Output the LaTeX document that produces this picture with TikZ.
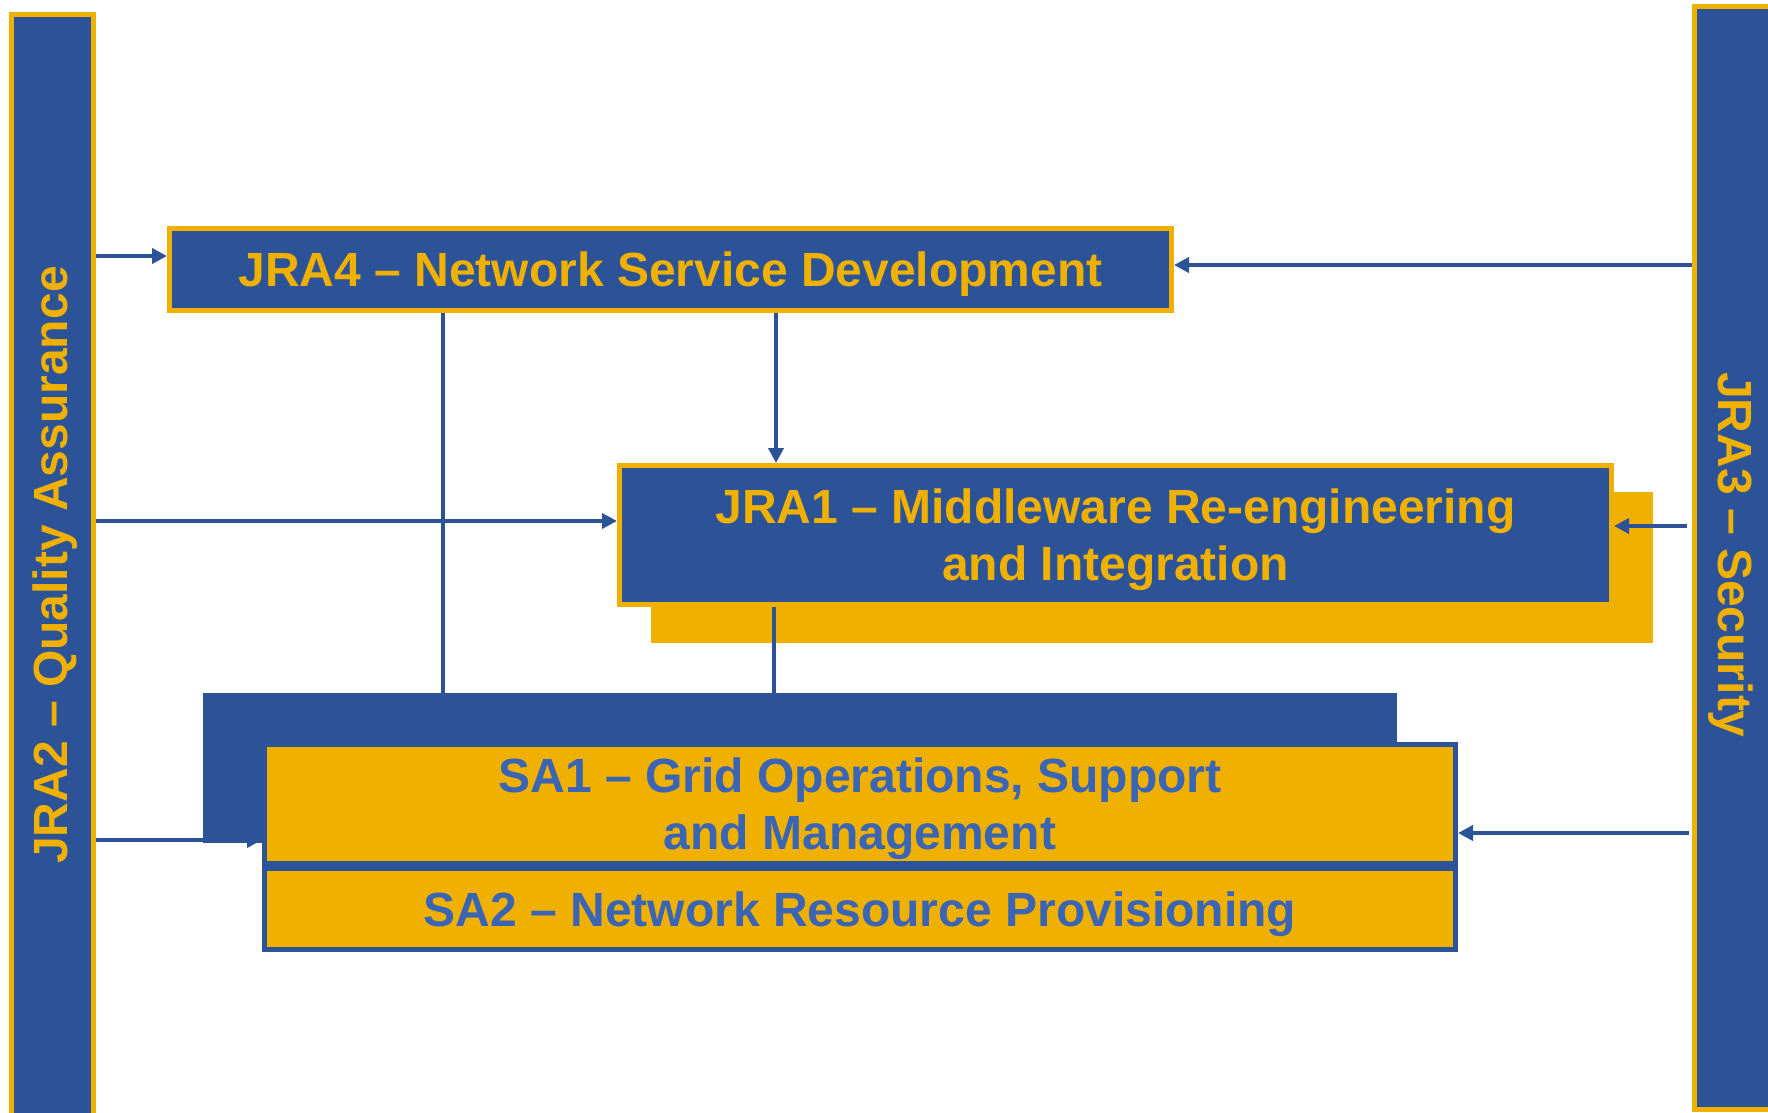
\documentclass[tikz,border=0pt]{standalone}
\usepackage{fontspec}
\setmainfont{Liberation Sans}
\usetikzlibrary{arrows.meta}
\definecolor{fblue}{RGB}{44,83,152}
\definecolor{forange}{RGB}{240,176,0}
\definecolor{tblue}{RGB}{58,100,180}
\tikzset{
  bigfont/.style={font=\fontsize{48}{57}\selectfont\bfseries},
  bluebox/.style={draw=forange, fill=fblue, line width=5pt, text=forange, bigfont, align=center, inner sep=0pt, text depth=0pt},
  orangebox/.style={draw=fblue, fill=forange, line width=5pt, text=tblue, bigfont, align=center, inner sep=0pt, text depth=0pt},
  plainrect/.style={draw=none, inner sep=0pt, outer sep=0pt},
  conn/.style={draw=fblue, line width=4.5pt},
  arr/.style={conn, -{Triangle[length=15pt,width=15pt]}},
}
\begin{document}
\begin{tikzpicture}[x=1pt,y=-1pt]
\useasboundingbox (0,0) rectangle (1768,1112);
\clip (0,0) rectangle (1768,1112);
% side bars
\node[bluebox, minimum width=82pt, minimum height=1140pt] (jra2) at (52.5,584.5) {};
\node[bluebox, minimum width=120pt, minimum height=1103pt] (jra3) at (1754.5,558) {};
\node[text=forange, bigfont, rotate=90] (jra2t) at (55,565) {JRA2 – Quality Assurance};
\node[text=forange, bigfont, rotate=-90] (jra3t) at (1731,555) {JRA3 – Security};
% JRA4
\node[bluebox, minimum width=1002pt, minimum height=82pt] (jra4) at (670.5,269.5) {JRA4 – Network Service Development};
% arrow hidden under SA1 shadow
\draw[arr] (jra2.east |- 0,840) -- (262,840) coordinate (sa1in);
% JRA1 with shadow
\node[plainrect, fill=forange, minimum width=1002pt, minimum height=151pt] (jra1sh) at (1152,567.5) {};
\node[bluebox, minimum width=992pt, minimum height=139pt] (jra1) at (1115.5,535) {JRA1 – Middleware Re-engineering\\and Integration};
% SA1 shadow
\node[plainrect, fill=fblue, minimum width=1194pt, minimum height=150pt] (sa1sh) at (800,768) {};
% vertical lines
\draw[conn] (jra4.south -| 443,0) -- (sa1sh.north -| 443,0);
\draw[conn] (jra1.south -| 774,0) -- (sa1sh.north -| 774,0);
\draw[arr] (jra4.south -| 776,0) -- (jra1.north -| 776,0);
% SA1, SA2
\node[orangebox, minimum width=1191pt, minimum height=119pt] (sa1) at (860,804) {SA1 – Grid Operations, Support\\and Management};
\node[orangebox, minimum width=1191pt, minimum height=81pt] (sa2) at (860,909) {SA2 – Network Resource Provisioning};
% arrows
\draw[arr] (jra2.east |- 0,256) -- (jra4.west |- 0,256);
\draw[arr] (jra3.west |- 0,265) -- (jra4.east |- 0,265);
\draw[arr] (jra2.east |- 0,521) -- (jra1.west |- 0,521);
\draw[arr, shorten <=5pt] (jra3.west |- 0,526) -- (jra1.east |- 0,526);
\draw[arr, shorten <=3pt] (jra3.west |- 0,833) -- (sa1.east |- 0,833);
\end{tikzpicture}
\end{document}
